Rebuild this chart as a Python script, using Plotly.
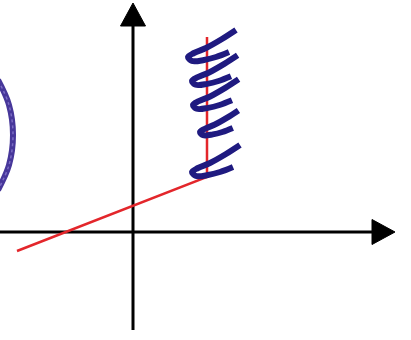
import plotly.graph_objects as go

# axis geometry (pixel-like units, origin at the axis crossing)
x_axis_ends = [-133, 262]
y_axis_ends = [-98, 229]
arrow_len = 23
arrow_half = 12.5

# red characteristic line
red_x = [-116, 74, 74]
red_y = [-19, 55, 195]

# purple arc on the left edge (points read along the stroke)
arc_x = [-135, -124, -120, -124, -135]
arc_y = [152, 127, 97, 67, 42]

# coil: leftmost point of each loop and one loop template
loop_x = [55, 59, 60, 67, 59]
loop_y = [175, 151, 127, 100, 60]
loop_scale = [1.0, 0.95, 0.95, 0.8, 1.0]
tmpl_dx = [48, 34, 18, 6, 0, 4, 16, 28, 41]
tmpl_dy = [27, 18, 9, 4, 0, -4, -3, 0, 5]

fig = go.Figure()

# purple arc, with a lighter dotted overlay for the crayon texture
fig.add_trace(go.Scatter(x=arc_x, y=arc_y, mode="lines",
                         line=dict(color="#47379a", width=6, shape="spline"),
                         showlegend=False, hoverinfo="skip"))
fig.add_trace(go.Scatter(x=arc_x, y=arc_y, mode="lines",
                         line=dict(color="#7b6cc4", width=1.5, shape="spline", dash="dot"),
                         showlegend=False, hoverinfo="skip"))

# axes
fig.add_trace(go.Scatter(x=[x_axis_ends[0], x_axis_ends[1] - arrow_len], y=[0, 0],
                         mode="lines", line=dict(color="black", width=3),
                         showlegend=False, hoverinfo="skip"))
fig.add_trace(go.Scatter(x=[0, 0], y=[y_axis_ends[0], y_axis_ends[1] - arrow_len],
                         mode="lines", line=dict(color="black", width=3),
                         showlegend=False, hoverinfo="skip"))
# arrow heads
xt = x_axis_ends[1]
fig.add_trace(go.Scatter(x=[xt - arrow_len, xt, xt - arrow_len, xt - arrow_len],
                         y=[arrow_half, 0, -arrow_half, arrow_half],
                         fill="toself", fillcolor="black", mode="lines",
                         line=dict(color="black", width=1),
                         showlegend=False, hoverinfo="skip"))
yt = y_axis_ends[1]
fig.add_trace(go.Scatter(x=[-arrow_half, 0, arrow_half, -arrow_half],
                         y=[yt - arrow_len, yt, yt - arrow_len, yt - arrow_len],
                         fill="toself", fillcolor="black", mode="lines",
                         line=dict(color="black", width=1),
                         showlegend=False, hoverinfo="skip"))

# red line
fig.add_trace(go.Scatter(x=red_x, y=red_y, mode="lines",
                         line=dict(color="#e3262b", width=2.5),
                         showlegend=False, hoverinfo="skip"))

# coil loops
for lx, ly, s in zip(loop_x, loop_y, loop_scale):
    fig.add_trace(go.Scatter(x=[lx + s * d for d in tmpl_dx],
                             y=[ly + s * d for d in tmpl_dy],
                             mode="lines", line=dict(color="#1f1a80", width=6, shape="spline"),
                             showlegend=False, hoverinfo="skip"))

fig.update_layout(
    width=411, height=340,
    margin=dict(l=0, r=0, t=0, b=0),
    plot_bgcolor="white", paper_bgcolor="white",
    xaxis=dict(range=[-133, 278], visible=False, fixedrange=True),
    yaxis=dict(range=[-108, 232], visible=False, fixedrange=True),
    showlegend=False,
)

# drop the default page margin so the plot sits at the window corner
fig.write_html("out.html", config={"displayModeBar": False},
               post_script="document.body.style.margin='0';")
